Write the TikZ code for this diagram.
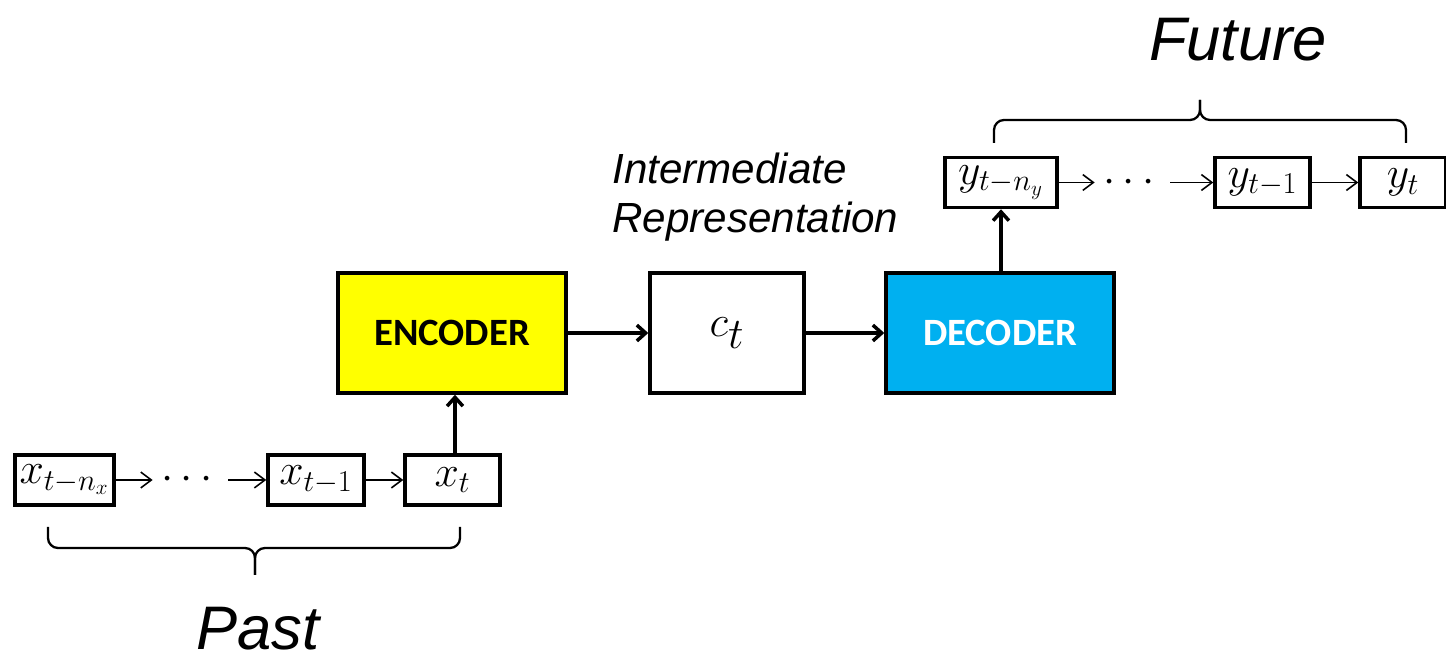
\documentclass[tikz,border=0pt]{standalone}
\usepackage{amsmath,amssymb}
\usepackage{fontspec}
\usepackage{tikz}
\usetikzlibrary{arrows.meta}
\newfontfamily\arialfont{Liberation Sans}
\newfontfamily\calibrifont{Carlito}
\definecolor{encyellow}{HTML}{FFFF00}
\definecolor{deccyan}{HTML}{00B0F0}
\tikzset{
  seqbox/.style={draw,line width=2pt,inner sep=0pt,minimum height=1cm,
    font=\fontsize{25}{30}\selectfont},
  bigbox/.style={draw,line width=2pt,inner sep=0pt,minimum width=4.56cm,
    minimum height=2.4cm},
  thinarrow/.style={-{Straight Barb[length=6pt,width=9pt]},line width=0.9pt},
  thickarrow/.style={-{Straight Barb[length=5pt,width=9pt]},line width=2pt},
  dotsnode/.style={inner sep=0pt,minimum width=1.5cm,font=\fontsize{25}{30}\selectfont},
  bracepath/.style={line width=1.3pt}
}

\begin{document}
\begin{tikzpicture}[x=0.02cm,y=0.02cm]
  \useasboundingbox (0,0) rectangle (1446,665);
  % past sequence
  \node[seqbox,minimum width=1.98cm] (x1) at ( 64.5,185) {$x_{t-n_x}$};
  \node[dotsnode] (xdots) at (190.5,185) {$\cdots$};
  \node[seqbox,minimum width=1.92cm] (x2) at (316.0,185) {$x_{t-1}$};
  \node[seqbox,minimum width=1.90cm] (x3) at (452.5,185) {$x_t$};
  \draw[thinarrow] (x1) -- (xdots);
  \draw[thinarrow] (xdots) -- (x2);
  \draw[thinarrow] (x2) -- (x3);
  % encoder, context, decoder
  \node[bigbox,fill=encyellow,font=\calibrifont\bfseries\fontsize{22}{26}\selectfont] (enc) at (452,332) {ENCODER};
  \node[bigbox,minimum width=3.08cm,font=\fontsize{40}{46}\selectfont] (ctx) at (727,332) {$c_t$};
  \node[bigbox,fill=deccyan,text=white,font=\calibrifont\bfseries\fontsize{22}{26}\selectfont] (dec) at (1000,332) {DECODER};
  \draw[thickarrow] (x3.north -| 455,0) -- (enc.south -| 455,0);
  \draw[thickarrow] (enc) -- (ctx);
  \draw[thickarrow] (ctx) -- (dec);
  % future sequence
  \node[seqbox,minimum width=2.24cm] (y1) at (1001.0,482.5) {$y_{t-n_y}$};
  \node[dotsnode] (ydots) at (1132.5,482.5) {$\cdots$};
  \node[seqbox,minimum width=1.90cm] (y2) at (1262.5,482.5) {$y_{t-1}$};
  \node[seqbox,minimum width=1.72cm] (y3) at (1403.0,482.5) {$y_t$};
  \draw[thinarrow] (y1) -- (ydots);
  \draw[thinarrow] (ydots) -- (y2);
  \draw[thinarrow] (y2) -- (y3);
  \draw[thickarrow] (dec.north -| y1) -- (y1.south);
  % braces
  \coordinate (pastL) at (48,138);
  \coordinate (pastR) at (460,138);
  \coordinate (pastM) at (255,90);
  \coordinate (futL) at (994,522);
  \coordinate (futR) at (1406,522);
  \coordinate (futM) at (1200,565);
  \draw[bracepath] (pastL) -- ++(0,-11) arc[start angle=180,end angle=270,radius=0.2cm]
    -- (245,117) arc[start angle=90,end angle=0,radius=0.2cm] -- (pastM);
  \draw[bracepath] (pastR) -- ++(0,-11) arc[start angle=0,end angle=-90,radius=0.2cm]
    -- (265,117) arc[start angle=90,end angle=180,radius=0.2cm] -- (pastM);
  \draw[bracepath] (futL) -- ++(0,13) arc[start angle=180,end angle=90,radius=0.2cm]
    -- (1190,545) arc[start angle=-90,end angle=0,radius=0.2cm] -- (futM);
  \draw[bracepath] (futR) -- ++(0,13) arc[start angle=0,end angle=90,radius=0.2cm]
    -- (1210,545) arc[start angle=270,end angle=180,radius=0.2cm] -- (futM);
  % labels
  \node[inner sep=0pt,font=\arialfont\itshape\fontsize{35}{40}\selectfont] (past) at (258,36) {Past};
  \node[inner sep=0pt,font=\arialfont\itshape\fontsize{35}{40}\selectfont] (future) at (1238,625) {Future};
  \node[anchor=west,inner sep=0pt,align=left,
    font=\arialfont\itshape\fontsize{24}{28}\selectfont] (inter) at (612,468)
    {Intermediate\\Representation};
\end{tikzpicture}
\end{document}
